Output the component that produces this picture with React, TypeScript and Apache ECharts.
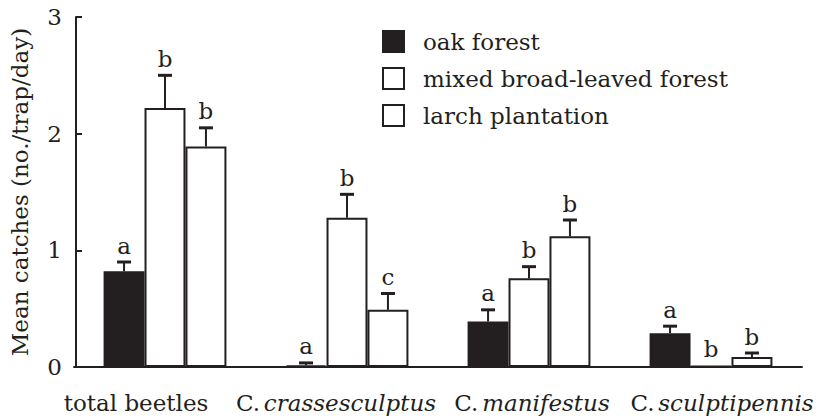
import React, { useEffect, useRef } from "react";
import * as echarts from "echarts";

const categories = ["total beetles", "C. crassesculptus", "C. manifestus", "C. sculptipennis"];
const seriesNames = ["oak forest", "mixed broad-leaved forest", "larch plantation"];
const oakMeans = [0.82, 0.015, 0.39, 0.29];
const oakSE = [0.08, 0.02, 0.1, 0.06];
const mixedMeans = [2.22, 1.28, 0.76, 0.01];
const mixedSE = [0.28, 0.2, 0.1, 0];
const larchMeans = [1.89, 0.49, 1.12, 0.085];
const larchSE = [0.16, 0.14, 0.14, 0.035];
const oakLetters = ["a", "a", "a", "a"];
const mixedLetters = ["b", "b", "b", "b"];
const larchLetters = ["b", "c", "b", "b"];
const yTicks = [0, 1, 2, 3];

const INK = "#231f20";
const FONT = "DejaVu Serif";
const FS = 23;

export default function App() {
  const ref = useRef<HTMLDivElement>(null);
  useEffect(() => {
    if (!ref.current) return;
    const chart = echarts.init(ref.current, null, { renderer: "svg" });
    const means = [oakMeans, mixedMeans, larchMeans];
    const ses = [oakSE, mixedSE, larchSE];
    const letters = [oakLetters, mixedLetters, larchLetters];
    const fills = [INK, "#ffffff", "#ffffff"];
    const BAR_FRAC = 0.225;

    const barSeries = seriesNames.map((name, s) => ({
      name,
      type: "bar",
      barWidth: BAR_FRAC * 100 + "%",
      barGap: "0%",
      data: means[s],
      itemStyle: { color: fills[s], borderColor: INK, borderWidth: 2 },
      z: 2,
    }));

    const errSeries = seriesNames.map((name, s) => ({
      name: name + "-err",
      type: "custom",
      z: 3,
      data: means[s].map((m, i) => [i, m, ses[s][i]]),
      renderItem: (params: any, api: any) => {
        const ci = api.value(0);
        const m = api.value(1);
        const se = api.value(2);
        const band = api.size([1, 0])[0];
        const barW = band * BAR_FRAC;
        const base = api.coord([ci, m]);
        const top = api.coord([ci, m + se]);
        const x = base[0] + (s - 1) * barW;
        const children: any[] = [];
        if (se > 0) {
          children.push({
            type: "line",
            shape: { x1: x, y1: base[1], x2: x, y2: top[1] },
            style: { stroke: INK, lineWidth: 2 },
          });
          children.push({
            type: "line",
            shape: { x1: x - 7, y1: top[1], x2: x + 7, y2: top[1] },
            style: { stroke: INK, lineWidth: 3 },
          });
        }
        children.push({
          type: "text",
          x: x,
          y: top[1] - 5,
          style: {
            text: letters[s][params.dataIndex],
            fill: INK,
            fontFamily: FONT,
            fontSize: FS,
            textAlign: "center",
            textVerticalAlign: "bottom",
          },
        });
        return { type: "group", children };
      },
    }));

    const base = { fontFamily: FONT, fontSize: FS, color: INK };
    const ital = { ...base, fontStyle: "italic" };

    chart.setOption({
      animation: false,
      textStyle: { fontFamily: FONT, color: INK },
      grid: { left: 72, right: 31, top: 17, bottom: 53 },
      legend: {
        data: seriesNames,
        orient: "vertical",
        left: 377,
        top: 25,
        itemWidth: 21,
        itemHeight: 21,
        itemGap: 14,
        icon: "rect",
        textStyle: { fontFamily: FONT, fontSize: FS, color: INK, padding: [0, 0, 0, 14] },
      },
      xAxis: {
        type: "category",
        data: categories,
        axisLine: { lineStyle: { color: INK, width: 2 } },
        axisTick: { show: false },
        axisLabel: {
          margin: 24,
          interval: 0,
          formatter: (v: string, i: number) => {
            if (i === 0) return `{n0|${v}}`;
            const name = v.slice(3);
            if (i === 1) return `{c|C.} {i1|${name}}`;
            if (i === 2) return `{c2|C.} {i|${name}}`;
            return `{c3|C.} {i|${name}}`;
          },
          rich: {
            n0: { ...base, padding: [0, 58, 0, 0] },
            c: base,
            i: ital,
            i1: { ...ital, padding: [0, 22, 0, 0] },
            c2: { ...base, padding: [0, 0, 0, 6] },
            c3: { ...base, padding: [0, 0, 0, 22] },
          },
        },
      },
      yAxis: {
        type: "value",
        min: yTicks[0],
        max: yTicks[yTicks.length - 1],
        interval: 1,
        offset: -2,
        name: "Mean catches (no./trap/day)",
        nameLocation: "middle",
        nameGap: 45,
        nameTextStyle: { fontFamily: FONT, fontSize: FS, color: INK },
        axisLine: { show: true, lineStyle: { color: INK, width: 2 } },
        axisTick: { show: true, inside: true, length: 6, lineStyle: { color: INK, width: 2 } },
        axisLabel: { fontFamily: FONT, fontSize: FS, color: INK, margin: 14 },
        splitLine: { show: false },
      },
      series: [...barSeries, ...errSeries],
    });
    return () => chart.dispose();
  }, []);
  return <div ref={ref} style={{ width: 833, height: 420, position: "absolute", left: 0, top: 0 }} />;
}
